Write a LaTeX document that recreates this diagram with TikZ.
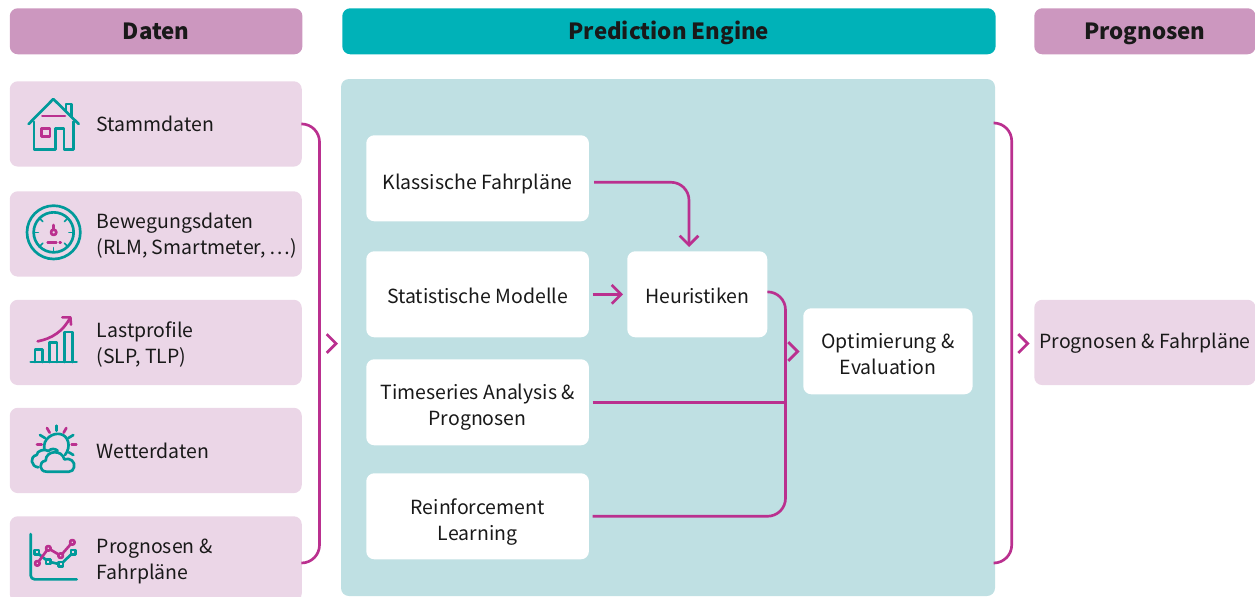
\documentclass[tikz,border=0pt]{standalone}
\usepackage{fontspec}
\setmainfont{Noto Sans CJK SC}
\usetikzlibrary{arrows.meta}

\definecolor{headpink}{HTML}{CC97BF}
\definecolor{boxpink}{HTML}{EBD6E7}
\definecolor{headteal}{HTML}{00B2B8}
\definecolor{panelteal}{HTML}{BFE0E3}
\definecolor{flowpink}{HTML}{BA308F}
\definecolor{iconteal}{HTML}{009A9A}

\tikzset{
  head/.style={rounded corners=6pt, anchor=north west, inner sep=0pt, text height=15pt, text depth=3.4pt, font=\fontsize{16.7}{20}\selectfont\bfseries, text=black!90},
  databox/.style={fill=boxpink, rounded corners=6pt, anchor=north west, minimum width=219pt, minimum height=64pt, inner sep=0pt},
  datatext/.style={anchor=west, inner sep=0pt, align=left, font=\fontsize{14.6}{19.5}\selectfont, text=black!90},
  whitebox/.style={fill=white, rounded corners=6pt, anchor=north west, minimum height=64.5pt, inner sep=0pt, text height=13.8pt, align=center, font=\fontsize{14.6}{19.5}\selectfont, text=black!90},
  flow/.style={draw=flowpink, line width=2pt, rounded corners=13.5pt},
  flowtip/.style={flow, -{Straight Barb[length=7pt,width=14pt]}},
  tealicon/.style={draw=iconteal, line width=2pt, line cap=round, line join=round},
  pinkicon/.style={draw=flowpink, line width=2pt, line cap=round, line join=round},
  iconframe/.style={x=0.25pt, y=-0.25pt}
}

\begin{document}
\begin{tikzpicture}[x=0.75pt, y=-0.75pt]
\useasboundingbox (0,0) rectangle (1255,596);

\node[head, fill=headpink, minimum width=219.5pt, minimum height=34.5pt] (daten) at (9.5,8) {Daten};
\node[head, fill=headteal, minimum width=490pt, minimum height=34.5pt] (engine) at (342,8) {Prediction Engine};
\node[head, fill=headpink, minimum width=166pt, minimum height=34.5pt] (prognosen) at (1034,8) {Prognosen};

\fill[panelteal, rounded corners=6pt] (341,79) rectangle (995,596);

\node[databox] (stamm) at (9.5,81) {};
\node[databox] (bewegung) at (9.5,191) {};
\node[databox] (last) at (9.5,299.5) {};
\node[databox] (wetter) at (9.5,407.5) {};
\node[databox] (progin) at (9.5,516) {};
\node[databox, minimum width=166pt] (progout) at (1034,299.5) {};

\node[datatext] (stammtext) at (96.5,123.5) {Stammdaten};
\node[datatext] (bewegungtext) at (96.5,236) {Bewegungsdaten\\(RLM, Smartmeter, \dots)};
\node[datatext] (lasttext) at (96.5,345) {Lastprofile\\(SLP, TLP)};
\node[datatext] (wettertext) at (96.5,450.5) {Wetterdaten};
\node[datatext] (progintext) at (96.5,561) {Prognosen \&\\Fahrpläne};
\node[datatext, anchor=center] (progouttext) at (1145,343) {Prognosen \& Fahrpläne};

\node[whitebox, minimum width=167pt, text height=19.8pt] (klassisch) at (366,135) {Klassische Fahrpläne};
\node[whitebox, minimum width=167pt] (statistik) at (366,251) {Statistische Modelle};
\node[whitebox, minimum width=167pt, text height=37.8pt] (timeseries) at (366,359) {Timeseries Analysis \&\\Prognosen};
\node[whitebox, minimum width=167pt, text height=39.3pt] (reinforcement) at (366,473) {Reinforcement\\Learning};
\node[whitebox, minimum width=105pt] (heuristik) at (627,251) {Heuristiken};
\node[whitebox, minimum width=127pt, text height=34.8pt] (optimierung) at (803,308) {Optimierung \&\\Evaluation};

\coordinate (leftbus) at (319.5,343.5);
\coordinate (leftend) at (302,563);
\coordinate (rightbus) at (1011.7,343.5);
\coordinate (rightstart) at (995,123);
\coordinate (rightend) at (995,563);
\coordinate (innerbus) at (785.5,402);
\coordinate (heurtip) at (689,247);

\draw[flow] (stamm.east) -| (leftbus) |- (leftend);
\draw[flow] (rightstart) -| (rightbus) |- (rightend);
\draw[flowtip] ([xshift=3.7pt,yshift=-3pt]klassisch.east) -| (heurtip);
\draw[flowtip] ([xshift=2.5pt]statistik.east) -- ([xshift=-3pt]heuristik.west);
\draw[flow] ([yshift=1.8pt]heuristik.east) -| (innerbus) |- ([xshift=2.5pt]reinforcement.east);
\draw[flow, rounded corners=0pt] ([xshift=2.5pt]timeseries.east) -- (timeseries.east -| innerbus);

\coordinate (leftback) at (335,343.5);
\coordinate (lefttip) at (338,343.5);
\coordinate (righttarget) at (1029.5,343.5);
\coordinate (rightback) at (1026.5,343.5);
\coordinate (innertip) at (799.5,351.5);
\coordinate (innerback) at (796.5,351.5);
\draw[flowtip] (leftback) -- (lefttip);
\draw[flowtip] (rightback) -- (righttarget);
\draw[flowtip] (innerback) -- (innertip);

% house
\begin{scope}[shift={(10,90)}, iconframe]
\draw[tealicon] (56,102) -- (130,27) -- (206,102);
\draw[tealicon] (168,62) -- (168,42) -- (184,42) -- (184,80);
\draw[tealicon] (72,95) -- (72,178) -- (137,178) -- (137,115) -- (162,115) -- (162,178) -- (190,178) -- (190,95);
\draw[pinkicon] (97,78) -- (165,78);
\draw[pinkicon] (95,115) rectangle (120,140);
\end{scope}
% gauge
\begin{scope}[shift={(15,200)}, iconframe]
\draw[tealicon] (116,97) circle (80);
\draw[tealicon] (116,97) circle (60);
\foreach \a in {0,45,90,135,180}
  \draw[tealicon, line width=1.2pt] (116,97) ++(\a:46) -- ++(\a:14);
\foreach \a in {-45,-135}
  \draw[tealicon, line width=1.2pt] (116,97) ++(\a:46) -- ++(\a:14);
\draw[pinkicon] (116,97) circle (8);
\draw[pinkicon] (116,88) -- (116,75);
\draw[pinkicon] (98,128) -- (124,128);
\draw[pinkicon] (134,128) -- (137,128);
\end{scope}
% bars
\begin{scope}[shift={(15,308)}, iconframe]
\draw[tealicon] (47,162) -- (185,162);
\draw[tealicon] (60,162) -- (60,124) -- (82,124) -- (82,162);
\draw[tealicon] (104,162) -- (104,104) -- (126,104) -- (126,162);
\draw[tealicon] (149,162) -- (149,72) -- (172,72) -- (172,162);
\draw[pinkicon] (68,100) .. controls (110,92) and (145,70) .. (166,28);
\draw[pinkicon] (142,28) -- (166,28) -- (168,50);
\end{scope}
% weather
\begin{scope}[shift={(15,420)}, iconframe]
\draw[tealicon] (88,88) .. controls (82,55) and (115,38) .. (135,42) .. controls (160,46) and (170,80) .. (150,105);
\draw[tealicon] (125,17) -- (125,32);
\draw[tealicon] (75,45) -- (90,54);
\draw[tealicon] (175,45) -- (160,54);
\draw[tealicon] (162,97) -- (175,105);
\draw[pinkicon] (96,24) -- (104,38);
\draw[pinkicon] (154,24) -- (146,38);
\draw[pinkicon] (66,73) -- (80,73);
\draw[pinkicon] (170,73) -- (184,73);
\draw[tealicon] (70,142) .. controls (48,140) and (42,110) .. (65,105) .. controls (65,92) and (90,85) .. (100,93) .. controls (108,85) and (120,85) .. (128,92);
\draw[tealicon] (95,155) .. controls (72,155) and (70,125) .. (92,122) .. controls (92,90) and (142,88) .. (148,118) .. controls (165,112) and (182,125) .. (177,142) .. controls (175,150) and (170,155) .. (162,155) -- cycle;
\end{scope}
% chart
\begin{scope}[shift={(15,525)}, iconframe]
\draw[tealicon, rounded corners=3pt] (47,27) -- (47,163) -- (185,163);
\draw[tealicon] (65,82) -- (100,110) -- (137,118) -- (175,82);
\foreach \p in {(65,82),(100,110),(137,118),(175,82)}
  \draw[tealicon, fill=boxpink] \p +(-7,-7) rectangle +(7,7);
\draw[pinkicon] (67,115) -- (100,70) -- (137,92) -- (172,52);
\foreach \p in {(67,115),(100,70),(137,92),(172,52)}
  \draw[pinkicon, fill=boxpink] \p circle (7);
\end{scope}

\end{tikzpicture}
\end{document}
